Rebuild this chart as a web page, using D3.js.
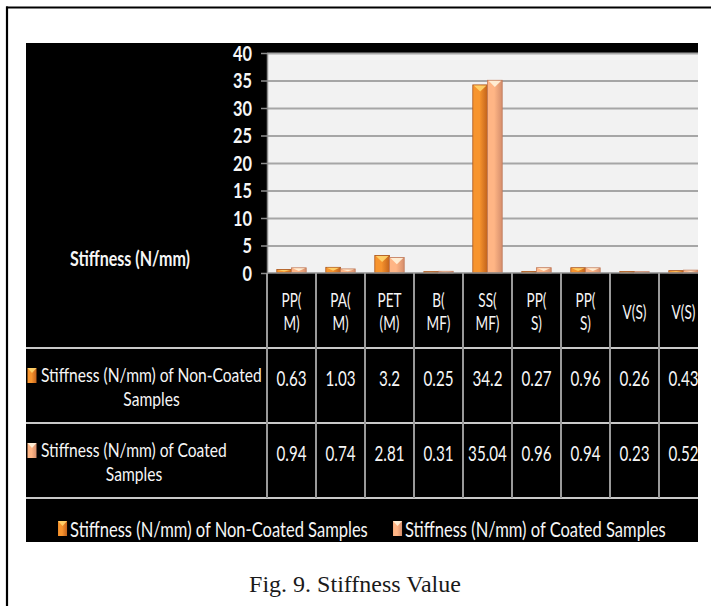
<!DOCTYPE html>
<html>
<head>
<meta charset="utf-8">
<script src="https://cdn.jsdelivr.net/npm/d3@7"></script>
<style>
  html, body { margin: 0; padding: 0; background: #fff; }
  svg { display: block; }
</style>
</head>
<body>
<svg id="chart" width="711" height="606"></svg>
<script>
// ---- data ----
const categories = [["PP(", "M)"], ["PA(", "M)"], ["PET", "(M)"], ["B(", "MF)"], ["SS(", "MF)"],
                    ["PP(", "S)"], ["PP(", "S)"], ["V(S)"], ["V(S)"]];
const nonCoated = [0.63, 1.03, 3.2, 0.25, 34.2, 0.27, 0.96, 0.26, 0.43];
const coated    = [0.94, 0.74, 2.81, 0.31, 35.04, 0.96, 0.94, 0.23, 0.52];
const seriesNames = ["Stiffness (N/mm) of Non-Coated Samples", "Stiffness (N/mm) of Coated Samples"];
const rowLabels = [["Stiffness (N/mm) of Non-Coated", "Samples"], ["Stiffness (N/mm) of Coated", "Samples"]];
const yTicks = [0, 5, 10, 15, 20, 25, 30, 35, 40];
const axisTitle = "Stiffness (N/mm)";
const caption = "Fig. 9. Stiffness Value";

// ---- layout ----
const svg = d3.select("#chart");
const panel = { x0: 26, y0: 43, x1: 698, y1: 542 };
const plot = { left: 267, top: 53, bottom: 273, colW: 49 };
const rowH = 75;
const font = "Lato, 'Open Sans', sans-serif";
const txt = "#f6f6f6";
const lineCol = "#c8c8c8";

const series = [
  { name: seriesNames[0], values: nonCoated, light: "#f7942e", dark: "#c2621b", cap: "#ffd56e", edge: "#a9541a" },
  { name: seriesNames[1], values: coated,    light: "#ffb585", dark: "#d58e6c", cap: "#fff3dc", edge: "#c07a5a" }
];

// horizontal condensing of a text class: width of a sample string sets the factor
function condenseFactor(sample, size, weight, target) {
  const t = svg.append("text").attr("font-family", font).attr("font-size", size)
    .attr("font-weight", weight).text(sample);
  const w = t.node().getComputedTextLength();
  t.remove();
  return target / w;
}
// squeeze a text horizontally about its own anchor x
function condense(sel, k) {
  sel.each(function () {
    const el = d3.select(this);
    const ax = +el.attr("x") || 0;
    const prev = el.attr("transform") || "";
    el.attr("transform", `${prev} translate(${ax},0) scale(${k},1) translate(${-ax},0)`);
  });
}

const sz = { tick: 20, title: 20, head: 18.5, val: 21, row: 19.5, leg: 21.5 };
const kTick  = condenseFactor("40", sz.tick, "bold", 19);
const kTitle = condenseFactor(axisTitle, sz.title, "bold", 120);
const kHead  = condenseFactor("PET", sz.head, "normal", 24);
const kVal   = condenseFactor("0.63", sz.val, "normal", 30);
const kRow   = condenseFactor(rowLabels[0][0], sz.row, "normal", 221);
const kLeg   = condenseFactor(seriesNames[0], sz.leg, "normal", 298);

// outer frame (top and left edges)
svg.append("line").attr("x1", 6).attr("x2", 711).attr("y1", 7.5).attr("y2", 7.5)
  .attr("stroke", "#000").attr("stroke-width", 2.2);
svg.append("line").attr("x1", 7).attr("x2", 7).attr("y1", 6.5).attr("y2", 606)
  .attr("stroke", "#000").attr("stroke-width", 2.2);

// gradients
const defs = svg.append("defs");
series.forEach((s, i) => {
  const g = defs.append("linearGradient").attr("id", "grad" + i)
    .attr("x1", "0").attr("x2", "1").attr("y1", "0").attr("y2", "0");
  g.append("stop").attr("offset", "0%").attr("stop-color", s.light);
  g.append("stop").attr("offset", "45%").attr("stop-color", s.light);
  g.append("stop").attr("offset", "100%").attr("stop-color", s.dark);
});
defs.append("clipPath").attr("id", "panelClip").append("rect")
  .attr("x", panel.x0).attr("y", panel.y0)
  .attr("width", panel.x1 - panel.x0).attr("height", panel.y1 - panel.y0);

// black panel
svg.append("rect").attr("x", panel.x0).attr("y", panel.y0)
  .attr("width", panel.x1 - panel.x0).attr("height", panel.y1 - panel.y0).attr("fill", "#000");

const g = svg.append("g").attr("clip-path", "url(#panelClip)");

// scales
const idx = d3.range(categories.length);
const x = d3.scaleBand().domain(idx)
  .range([plot.left, plot.left + plot.colW * categories.length]);
const xBars = x.copy().paddingInner(0.4).paddingOuter(0.2);
const x1 = d3.scaleBand().domain([0, 1]).range([0, xBars.bandwidth()]);
const y = d3.scaleLinear().domain([0, 40]).range([plot.bottom, plot.top]);

// plot background
g.append("rect").attr("x", plot.left).attr("y", plot.top)
  .attr("width", panel.x1 - plot.left).attr("height", plot.bottom - plot.top).attr("fill", "#f2f2f2");

// gridlines
const grid = g.append("g").attr("transform", `translate(${plot.left},0)`)
  .call(d3.axisLeft(y).tickValues(yTicks.filter(v => v > 0)).tickSize(-(panel.x1 - plot.left)).tickFormat(""));
grid.select(".domain").remove();
grid.selectAll("line").attr("stroke", "#a6a6a6").attr("stroke-width", 1.8);

// y axis
const yAxis = g.append("g").attr("transform", `translate(${plot.left},0)`)
  .call(d3.axisLeft(y).tickValues(yTicks).tickSize(6).tickPadding(9).tickSizeOuter(0));
yAxis.select(".domain").attr("stroke", "#8c8c8c").attr("stroke-width", 1.5);
yAxis.selectAll(".tick line").attr("stroke", "#8c8c8c").attr("stroke-width", 1.5);
yAxis.selectAll(".tick text").attr("fill", txt).attr("font-family", font)
  .attr("font-size", sz.tick).attr("font-weight", "bold").attr("dy", "0.36em")
  .call(condense, kTick);

// axis title
g.append("text").attr("x", 130).attr("y", 266).attr("text-anchor", "middle")
  .attr("font-family", font).attr("font-size", sz.title).attr("font-weight", "bold")
  .attr("fill", txt).text(axisTitle).call(condense, kTitle);

// bars
series.forEach((s, si) => {
  const bars = g.append("g").selectAll("g").data(s.values).join("g");
  bars.append("rect")
    .attr("x", (d, i) => xBars(i) + x1(si))
    .attr("y", d => y(d))
    .attr("width", x1.bandwidth())
    .attr("height", d => y(0) - y(d))
    .attr("fill", `url(#grad${si})`)
    .attr("stroke", s.edge).attr("stroke-width", 0.8);
  bars.append("path")
    .attr("d", (d, i) => {
      const bx = xBars(i) + x1(si), bw = x1.bandwidth(), top = y(d);
      const depth = Math.min((y(0) - top) * 0.6, bw * 0.45);
      return `M${bx + 1},${top + 0.5}L${bx + bw - 1},${top + 0.5}L${bx + bw / 2},${top + depth}Z`;
    })
    .attr("fill", s.cap).attr("opacity", 0.9);
});

// x axis baseline
g.append("line").attr("x1", plot.left).attr("x2", panel.x1)
  .attr("y1", y(0)).attr("y2", y(0)).attr("stroke", "#8c8c8c").attr("stroke-width", 1.5);

// data table grid
const tableTop = y(0);
const rowBounds = [tableTop, tableTop + rowH, tableTop + 2 * rowH, tableTop + 3 * rowH];
g.selectAll(".hline").data(rowBounds.slice(1)).join("line")
  .attr("x1", panel.x0).attr("x2", panel.x1)
  .attr("y1", d => d).attr("y2", d => d)
  .attr("stroke", lineCol).attr("stroke-width", 2);
g.selectAll(".vline").data(idx.concat([categories.length])).join("line")
  .attr("x1", i => plot.left + i * x.step()).attr("x2", i => plot.left + i * x.step())
  .attr("y1", tableTop).attr("y2", rowBounds[3])
  .attr("stroke", "#9a9a9a").attr("stroke-width", 2);

// column headers (one text per cell, lines as tspans)
categories.forEach((lines, i) => {
  const cx = x(i) + x.bandwidth() / 2;
  const t = g.append("text")
    .attr("x", cx)
    .attr("y", lines.length === 1 ? 319 : 307)
    .attr("text-anchor", "middle").attr("font-family", font).attr("font-size", sz.head)
    .attr("fill", txt);
  lines.forEach((line, j) => {
    t.append("tspan").attr("x", cx).attr("dy", j === 0 ? 0 : 23).text(line);
  });
  t.call(condense, kHead);
});

// table values
series.forEach((s, si) => {
  const mid = (rowBounds[si + 1] + rowBounds[si + 2]) / 2;
  g.append("g").selectAll("text").data(s.values).join("text")
    .attr("x", (d, i) => x(i) + x.bandwidth() / 2)
    .attr("y", mid + 1)
    .attr("text-anchor", "middle").attr("font-family", font).attr("font-size", sz.val)
    .attr("fill", txt).text(d => d).call(condense, kVal);
});

// small series key used in table rows and legend
function keyMarker(sel, si, kx, ky) {
  const s = series[si];
  sel.append("rect").attr("x", kx).attr("y", ky).attr("width", 9).attr("height", 15)
    .attr("fill", `url(#grad${si})`);
  sel.append("path")
    .attr("d", `M${kx},${ky}L${kx + 9},${ky}L${kx + 4.5},${ky + 5}Z`)
    .attr("fill", s.cap).attr("opacity", 0.9);
}

// row labels: first line starts after the key, second line centred beneath it
rowLabels.forEach((lines, si) => {
  const mid = (rowBounds[si + 1] + rowBounds[si + 2]) / 2;
  const lx0 = 41;
  const t = g.append("text").attr("x", lx0).attr("y", mid - 3.5)
    .attr("font-family", font).attr("font-size", sz.row).attr("fill", txt);
  const first = t.append("tspan").attr("x", lx0).text(lines[0]);
  const wu = first.node().getComputedTextLength();
  t.append("tspan").attr("x", lx0 + wu / 2).attr("dy", 24)
    .attr("text-anchor", "middle").text(lines[1]);
  t.call(condense, kRow);
  keyMarker(g, si, 27.5, mid - 17.5);
});

// legend
const legend = g.append("g");
const legY = 537;
const items = series.map((s, si) => {
  const t = legend.append("text").attr("y", legY).attr("font-family", font)
    .attr("font-size", sz.leg).attr("fill", txt).text(s.name);
  const w = t.node().getComputedTextLength() * kLeg;
  return { t, w, si };
});
const gap = 25, mk = 12;
const total = d3.sum(items, d => d.w + mk) + gap * (items.length - 1);
let lx = (panel.x0 + panel.x1) / 2 - total / 2;
items.forEach(it => {
  keyMarker(legend, it.si, lx, legY - 16);
  it.t.attr("x", lx + mk).call(condense, kLeg);
  lx += mk + it.w + gap;
});

// caption
svg.append("text").attr("x", 355).attr("y", 592).attr("text-anchor", "middle")
  .attr("font-family", "'Liberation Serif', 'DejaVu Serif', serif").attr("font-size", 24)
  .attr("fill", "#1a1a1a").text(caption);
</script>
</body>
</html>
